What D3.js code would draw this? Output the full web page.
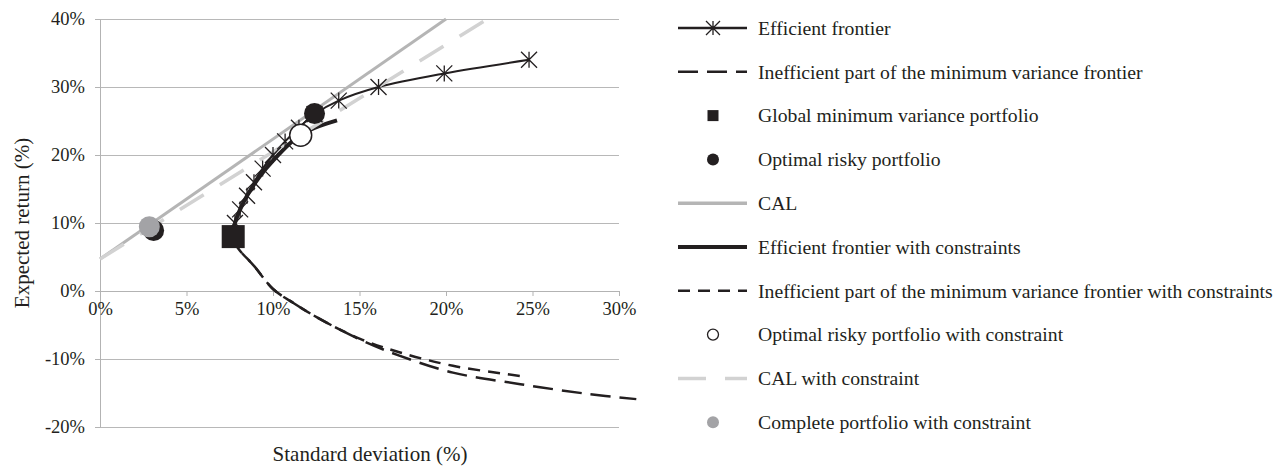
<!DOCTYPE html>
<html lang="en">
<head>
  <meta charset="UTF-8">
  <title>Efficient frontier</title>
  <style>
    body{ margin:0; background:#fff; }
    svg text{ font-family:"Liberation Serif", "DejaVu Serif", serif; fill:#231f20; }
    .axis path, .axis line{ stroke:#b3b3b3; }
    .grid line{ stroke:#b8b8b8; }
    .grid path{ display:none; }
  </style>
</head>
<body>
  <script src="https://cdn.jsdelivr.net/npm/d3@7/dist/d3.min.js"></script>
  <script>
    // values, std dev (%) and expected return (%)
    const effStd = [7.6, 7.8, 8.1, 8.5, 8.9, 9.4, 10.0, 10.7, 11.5, 12.4, 13.8, 16.1, 19.9, 24.8];
    const effRet = [8, 10, 12, 14, 16, 18, 20, 22, 24, 26, 28, 30, 32, 34];
    const ineffStd = [7.6, 8.0, 8.9, 10.0, 11.2, 12.7, 15.0, 17.3, 20.4, 24.3, 28.1, 31.0];
    const ineffRet = [8, 6.2, 3.7, 0.3, -1.8, -4.1, -7.1, -9.5, -12.0, -13.7, -15.1, -15.9];
    const effCStd = [7.6, 7.8, 8.1, 8.5, 9.0, 9.6, 10.3, 11.1, 11.6, 12.4, 13.7];
    const effCRet = [8, 10, 12, 14, 16, 18, 20, 22, 23, 24, 25.1];
    const ineffCStd = [7.6, 8.0, 8.9, 10.0, 11.2, 12.7, 15.0, 17.3, 20.4, 24.6];
    const ineffCRet = [8, 6.2, 3.7, 0.3, -1.8, -4.1, -7.0, -9.0, -11.0, -12.6];
    const calStd = [0, 20.0];
    const calRet = [4.7, 40];
    const calCStd = [0, 22.4];
    const calCRet = [4.7, 40];
    const gmv = [7.7, 8.0];
    const optimal = [12.4, 26.1];
    const completeBlack = [3.1, 8.9];
    const optimalC = [11.6, 22.9];
    const completeC = [2.85, 9.45];

    const xTicks = [0, 5, 10, 15, 20, 25, 30];
    const yTicks = [-20, -10, 0, 10, 20, 30, 40];
    const legendLabels = [
      'Efficient frontier',
      'Inefficient part of the minimum variance frontier',
      'Global minimum variance portfolio',
      'Optimal risky portfolio',
      'CAL',
      'Efficient frontier with constraints',
      'Inefficient part of the minimum variance frontier with constraints',
      'Optimal risky portfolio with constraint',
      'CAL with constraint',
      'Complete portfolio with constraint'
    ];

    const width = 1276, height = 467;
    const ink = '#231f20';
    const svg = d3.select('body').append('svg')
      .attr('width', width)
      .attr('height', height);

    const x = d3.scaleLinear().domain([0, 30]).range([100, 619]);
    const y = d3.scaleLinear().domain([-20, 40]).range([427, 19]);
    const pct = d => d + '%';

    // horizontal grid lines
    svg.append('g')
      .attr('class', 'grid')
      .attr('transform', 'translate(100,0)')
      .call(d3.axisLeft(y).tickValues(yTicks).tickSize(-519).tickFormat(''));

    // y axis
    const yAxis = svg.append('g')
      .attr('class', 'axis')
      .attr('transform', 'translate(100,0)')
      .call(d3.axisLeft(y).tickValues(yTicks).tickSize(5).tickSizeOuter(0).tickPadding(10).tickFormat(pct));
    yAxis.selectAll('text').style('font-size', '18.5px');

    // x axis crosses at 0%
    const xAxis = svg.append('g')
      .attr('class', 'axis')
      .attr('transform', `translate(0,${y(0)})`)
      .call(d3.axisBottom(x).tickValues(xTicks).tickSize(5).tickSizeOuter(0).tickPadding(6).tickFormat(pct));
    xAxis.selectAll('text').style('font-size', '18.5px');

    svg.append('text')
      .attr('transform', `translate(29,${(y(40) + y(-20)) / 2}) rotate(-90)`)
      .attr('text-anchor', 'middle')
      .style('font-size', '21px')
      .text('Expected  return (%)');
    svg.append('text')
      .attr('x', 370).attr('y', 461)
      .attr('text-anchor', 'middle')
      .style('font-size', '21px')
      .text('Standard deviation (%)');

    const pts = (s, r) => s.map((d, i) => [d, r[i]]);
    const smooth = d3.line().x(d => x(d[0])).y(d => y(d[1])).curve(d3.curveCatmullRom.alpha(0.5));

    function drawLine(data, stroke, w, dash){
      svg.append('path')
        .datum(data)
        .attr('d', smooth)
        .attr('fill', 'none')
        .attr('stroke', stroke)
        .attr('stroke-width', w)
        .attr('stroke-dasharray', dash || null);
    }

    drawLine(pts(effStd, effRet), ink, 2);
    drawLine(pts(ineffStd, ineffRet), ink, 2.5, '20,9');
    drawLine(pts(calStd, calRet), '#b5b5b5', 3);
    drawLine(pts(effCStd, effCRet), ink, 4);
    drawLine(pts(ineffCStd, ineffCRet), ink, 2.5, '12,8');
    drawLine(pts(calCStd, calCRet), '#d2d2d2', 3.5, '28,19');

    // asterisk markers on the efficient frontier
    function star(g, cx, cy, h){
      g.append('path')
        .attr('d', `M${cx},${cy - h}V${cy + h}M${cx - h},${cy - h}L${cx + h},${cy + h}M${cx - h},${cy + h}L${cx + h},${cy - h}`)
        .attr('stroke', ink).attr('stroke-width', 1.3).attr('fill', 'none');
    }
    const stars = svg.append('g');
    pts(effStd, effRet).slice(1).forEach(d => star(stars, x(d[0]), y(d[1]), 8));

    svg.append('rect')
      .attr('x', x(gmv[0]) - 11.5).attr('y', y(gmv[1]) - 11.5)
      .attr('width', 23).attr('height', 23)
      .attr('fill', ink);
    svg.append('circle').attr('cx', x(optimal[0])).attr('cy', y(optimal[1])).attr('r', 10.5).attr('fill', ink);
    svg.append('circle').attr('cx', x(completeBlack[0])).attr('cy', y(completeBlack[1])).attr('r', 10.5).attr('fill', ink);
    svg.append('circle').attr('cx', x(optimalC[0])).attr('cy', y(optimalC[1])).attr('r', 11)
      .attr('fill', '#fff').attr('stroke', ink).attr('stroke-width', 1.5);
    svg.append('circle').attr('cx', x(completeC[0])).attr('cy', y(completeC[1])).attr('r', 10.5).attr('fill', '#a3a3a6');

    // legend
    const legend = svg.append('g').attr('transform', 'translate(678,0)');
    const rowY = i => 28 + i * 43.8;
    legend.selectAll('text')
      .data(legendLabels)
      .join('text')
      .attr('x', 80)
      .attr('y', (d, i) => rowY(i))
      .attr('dy', '0.35em')
      .style('font-size', '19.7px')
      .text(d => d);

    function legendLine(i, stroke, w, dash){
      legend.append('line')
        .attr('x1', 0).attr('x2', 69)
        .attr('y1', rowY(i)).attr('y2', rowY(i))
        .attr('stroke', stroke).attr('stroke-width', w)
        .attr('stroke-dasharray', dash || null);
    }
    legendLine(0, ink, 2.5);
    star(legend, 35, rowY(0), 7);
    legendLine(1, ink, 2.5, '20,9');
    legend.append('rect').attr('x', 29.5).attr('y', rowY(2) - 5.5).attr('width', 11).attr('height', 11).attr('fill', ink);
    legend.append('circle').attr('cx', 35).attr('cy', rowY(3)).attr('r', 6).attr('fill', ink);
    legendLine(4, '#b5b5b5', 3.5);
    legendLine(5, ink, 4);
    legendLine(6, ink, 2.5, '12,8');
    legend.append('circle').attr('cx', 35).attr('cy', rowY(7)).attr('r', 5.5).attr('fill', '#fff').attr('stroke', ink).attr('stroke-width', 1.3);
    legendLine(8, '#d2d2d2', 3.5, '28,19');
    legend.append('circle').attr('cx', 35).attr('cy', rowY(9)).attr('r', 6).attr('fill', '#a3a3a6');
  </script>
</body>
</html>
